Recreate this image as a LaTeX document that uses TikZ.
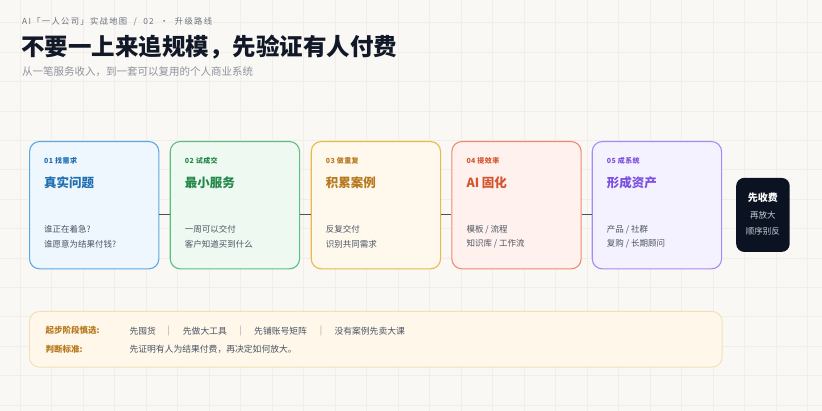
\documentclass[tikz,border=0pt]{standalone}
\usepackage{fontspec}
\setmainfont{Noto Sans CJK SC}
\usetikzlibrary{calc}
\definecolor{bg}{HTML}{FAF8F5}
\definecolor{gridc}{HTML}{F1EEEA}
\definecolor{ink}{HTML}{111827}
\definecolor{muted}{HTML}{6B7280}
\definecolor{sub}{HTML}{8E939B}
\definecolor{body}{HTML}{4B5563}
\definecolor{conn}{HTML}{4A5060}
\definecolor{aBorder}{HTML}{5AA9E6}\definecolor{aFill}{HTML}{EEF6FE}\definecolor{aTitle}{HTML}{1F6FB2}
\definecolor{bBorder}{HTML}{5DBE7E}\definecolor{bFill}{HTML}{EEF9F2}\definecolor{bTitle}{HTML}{25884A}
\definecolor{cBorder}{HTML}{E9B949}\definecolor{cFill}{HTML}{FFF8EC}\definecolor{cTitle}{HTML}{B7791F}
\definecolor{dBorder}{HTML}{EE8B6E}\definecolor{dFill}{HTML}{FFF1EE}\definecolor{dTitle}{HTML}{D4552F}
\definecolor{eBorder}{HTML}{A58BF5}\definecolor{eFill}{HTML}{F5F2FF}\definecolor{eTitle}{HTML}{7B4FE0}
\definecolor{dark}{HTML}{0B1221}
\definecolor{darktext}{HTML}{C9CDD5}
\definecolor{noteFill}{HTML}{FFF7EA}
\definecolor{noteBorder}{HTML}{F3DFB3}
\definecolor{noteLabel}{HTML}{B7791F}
\definecolor{sep}{HTML}{9CA3AF}
\tikzset{
  txt/.style={inner sep=0pt, anchor=west},
  cardbox/.style={draw=#1Border, fill=#1Fill, line width=1.1pt, rounded corners=10pt,
    minimum width=129.3pt, minimum height=127.3pt, anchor=north west, inner sep=0pt},
  connline/.style={draw=conn, line width=1.4pt},
  steplbl/.style={txt, font=\fontsize{7}{8}\selectfont\bfseries\addfontfeature{LetterSpace=6}},
  cardtitle/.style={txt, font=\fontsize{12.5}{14}\selectfont\bfseries},
  cardbody/.style={txt, text=body, font=\fontsize{8.5}{10}\selectfont},
  notetext/.style={txt, text=body, font=\fontsize{8.8}{10}\selectfont},
  notelbl/.style={txt, text=noteLabel, font=\fontsize{8.5}{10}\selectfont\bfseries},
}
\newcommand\mycard[7]{%
  \node[cardbox=#2] (#1) at (#3,141) {};
  \node[steplbl, text=#2Title] (#1s) at ([xshift=15pt,yshift=-19.7pt]#1.north west) {#4};
  \node[cardtitle, text=#2Title] (#1t) at ([xshift=15pt,yshift=-41.7pt]#1.north west) {#5};
  \node[cardbody] (#1a) at ([xshift=15pt,yshift=-88.3pt]#1.north west) {#6};
  \node[cardbody] (#1b) at ([xshift=15pt,yshift=-103pt]#1.north west) {#7};
}
\begin{document}
\begin{tikzpicture}[x=1pt,y=-1pt]
\fill[bg] (0,0) rectangle (822,411);
\useasboundingbox (0,0) rectangle (822,411);
\foreach \i in {0,...,25} \draw[gridc, line width=0.5pt] (20+31.5*\i,0) -- (20+31.5*\i,411);
\foreach \j in {0,...,13} \draw[gridc, line width=0.5pt] (0,22.7+29.4*\j) -- (822,22.7+29.4*\j);

\node[txt, text=muted, font=\fontsize{8.3}{10}\selectfont\addfontfeature{LetterSpace=16}] (kicker) at (22,22) {AI「一人公司」实战地图 \ / \ 02 \ · \ 升级路线};
\node[txt, text=ink, font=\fontsize{23.5}{28}\selectfont\bfseries] (title) at (21,47) {不要一上来追规模，先验证有人付费};
\node[txt, text=sub, font=\fontsize{10.5}{12}\selectfont] (subtitle) at (22,72) {从一笔服务收入，到一套可以复用的个人商业系统};

\mycard{c1}{a}{29}{01 找需求}{真实问题}{谁正在着急?}{谁愿意为结果付钱?}
\mycard{c2}{b}{169.7}{02 试成交}{最小服务}{一周可以交付}{客户知道买到什么}
\mycard{c3}{c}{310.7}{03 做重复}{积累案例}{反复交付}{识别共同需求}
\mycard{c4}{d}{451.3}{04 提效率}{AI 固化}{模板 / 流程}{知识库 / 工作流}
\mycard{c5}{e}{591.7}{05 成系统}{形成资产}{产品 / 社群}{复购 / 长期顾问}

\foreach \p/\q in {c1/c2,c2/c3,c3/c4,c4/c5}
  \draw[connline] ([yshift=-73.5pt]\p.north east) -- ([yshift=-73.5pt]\q.north west);

\node[fill=dark, rounded corners=8pt, minimum width=53.5pt, minimum height=74pt, anchor=north west, inner sep=0pt] (final) at (736,177.7) {};
\node[inner sep=0pt, text=white, font=\fontsize{10}{12}\selectfont\bfseries] (f1) at ([yshift=-20pt]final.north) {先收费};
\node[inner sep=0pt, text=darktext, font=\fontsize{8.5}{10}\selectfont] (f2) at ([yshift=-37.3pt]final.north) {再放大};
\node[inner sep=0pt, text=darktext, font=\fontsize{8.5}{10}\selectfont] (f3) at ([yshift=-54pt]final.north) {顺序别反};

\node[draw=noteBorder, fill=noteFill, line width=0.9pt, rounded corners=10pt, minimum width=692.7pt, minimum height=55.7pt, anchor=north west, inner sep=0pt] (note) at (29,311) {};
\node[notelbl] (n1l) at (45.5,330.7) {起步阶段慎选:};
\node[notetext] (n1a) at (129.3,330.7) {先囤货};
\node[notetext, text=sep] (s1) at (167.5,330.7) {|};
\node[notetext] (n1b) at (182.7,330.7) {先做大工具};
\node[notetext, text=sep] (s2) at (239.5,330.7) {|};
\node[notetext] (n1c) at (254,330.7) {先铺账号矩阵};
\node[notetext, text=sep] (s3) at (319.7,330.7) {|};
\node[notetext] (n1d) at (334.3,330.7) {没有案例先卖大课};
\node[notelbl] (n2l) at (45.5,349.3) {判断标准:};
\node[notetext] (n2a) at (129.3,349.3) {先证明有人为结果付费，再决定如何放大。};
\end{tikzpicture}
\end{document}
